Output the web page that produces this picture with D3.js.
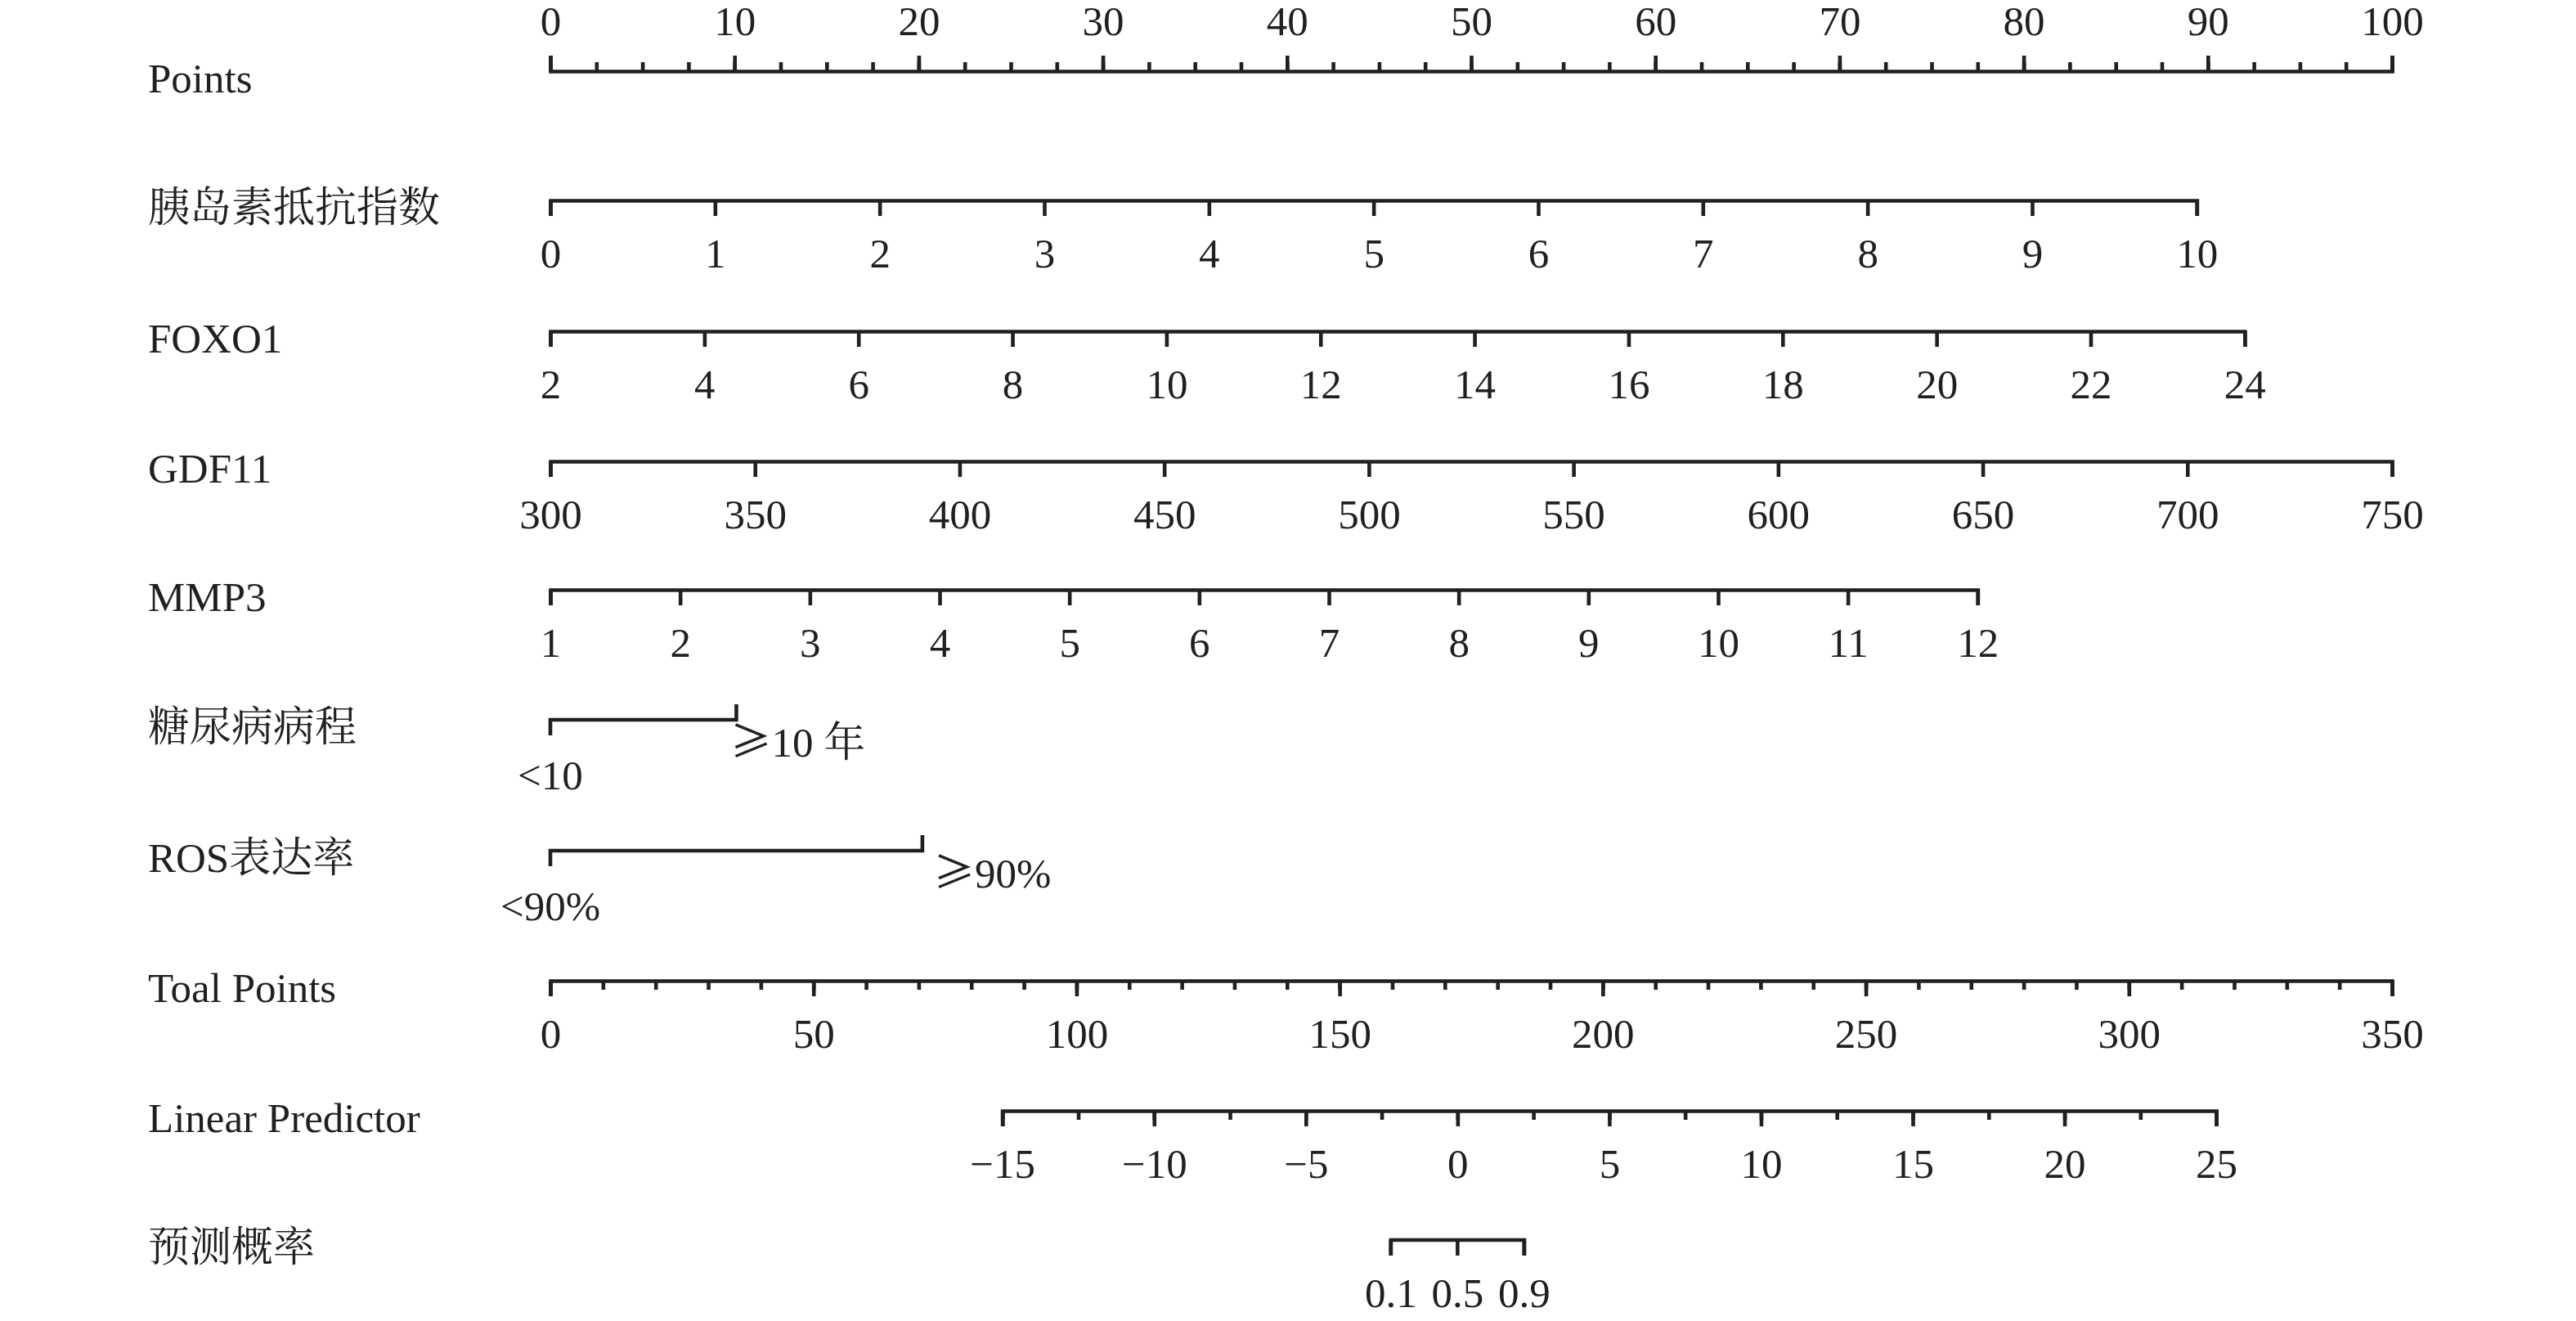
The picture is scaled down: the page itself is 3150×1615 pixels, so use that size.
<!DOCTYPE html>
<html><head><meta charset="utf-8">
<script src="https://cdn.jsdelivr.net/npm/d3@7"></script>
<style>
html,body{margin:0;padding:0;background:#fff;}
svg{display:block;}
</style></head>
<body>
<svg id="chart" width="3150" height="1615"></svg>
<script>
// ---------------- data ----------------
const rowLabels = ["Points","胰岛素抵抗指数","FOXO1","GDF11","MMP3","糖尿病病程","ROS表达率","Toal Points","Linear Predictor","预测概率"];

const pointsDomain = [0, 100];
const pointsTicks = [0,10,20,30,40,50,60,70,80,90,100];
const pointsMinor = [0,2.5,5,7.5,10,12.5,15,17.5,20,22.5,25,27.5,30,32.5,35,37.5,40,42.5,45,47.5,50,52.5,55,57.5,60,62.5,65,67.5,70,72.5,75,77.5,80,82.5,85,87.5,90,92.5,95,97.5,100];

const insulinRange = [0, 10];
const insulinPoints = [0, 89.4];
const insulinTicks = [0,1,2,3,4,5,6,7,8,9,10];

const foxo1Range = [2, 24];
const foxo1Points = [0, 92.0];
const foxo1Ticks = [2,4,6,8,10,12,14,16,18,20,22,24];

const gdf11Range = [300, 750];
const gdf11Points = [0, 100];
const gdf11Ticks = [300,350,400,450,500,550,600,650,700,750];

const mmp3Range = [1, 12];
const mmp3Points = [0, 77.5];
const mmp3Ticks = [1,2,3,4,5,6,7,8,9,10,11,12];

const durationLevels = ["<10", "≥10 年"];
const durationPoints = [0, 10.1];

const rosLevels = ["<90%", "≥90%"];
const rosPoints = [0, 20.2];

const totalDomain = [0, 350];
const totalTicks = [0,50,100,150,200,250,300,350];
const totalMinor = [0,10,20,30,40,50,60,70,80,90,100,110,120,130,140,150,160,170,180,190,200,210,220,230,240,250,260,270,280,290,300,310,320,330,340,350];

const lpDomain = [-15, 25];
const lpTotalPoints = [85.9, 316.6];
const lpTicks = [-15,-10,-5,0,5,10,15,20,25];
const lpMinor = [-15,-12.5,-10,-7.5,-5,-2.5,0,2.5,5,7.5,10,12.5,15,17.5,20,22.5,25];

const probTicks = [0.1, 0.5, 0.9];

// ---------------- layout ----------------
const INK = "#231f20";
const FONT = "'Liberation Serif','Times New Roman','Noto Serif CJK SC','Noto Sans CJK SC',serif";
const CJK = "'Noto Sans CJK SC','Noto Serif CJK SC',sans-serif";
const FS = 51;
const rowY = [87, 245, 405, 564, 721, 880, 1040, 1199, 1358, 1516];
const x0 = 673, x1 = 2925, labelX = 181;
const SW = 4.6, MAJOR = 19, MINOR = 11, LABOFF = 82;

const svg = d3.select("#chart");
svg.append("rect").attr("width",3150).attr("height",1615).attr("fill","#fff");

const pointsScale = d3.scaleLinear().domain(pointsDomain).range([x0, x1]);
const totalScale = d3.scaleLinear().domain(totalDomain).range([x0, x1]);
const lpScale = d3.scaleLinear().domain(lpDomain).range(lpTotalPoints.map(totalScale));

// row labels
svg.append("g").selectAll("text").data(rowLabels).join("text")
  .attr("x", labelX).attr("y", (d,i)=>rowY[i]+26)
  .attr("font-family", FONT).attr("font-size", FS).attr("fill", INK)
  .text(d=>d);

function styleAxis(g){
  g.attr("font-family", FONT).attr("font-size", FS).style("color", INK);
  g.selectAll("path,line").attr("stroke-width", SW).attr("stroke-linecap","butt").attr("stroke-linejoin","miter");
}

function numericAxis(y, scale, ticks, minor, top){
  const make = top ? d3.axisTop : d3.axisBottom;
  if (minor) {
    const gm = svg.append("g").attr("transform", `translate(0,${y})`)
      .call(make(scale).tickValues(minor).tickSize(MINOR).tickFormat(""));
    gm.select(".domain").remove();
    styleAxis(gm);
  }
  const g = svg.append("g").attr("transform", `translate(0,${y})`)
    .call(make(scale).tickValues(ticks).tickSizeInner(MAJOR).tickSizeOuter(MAJOR));
  styleAxis(g);
  g.selectAll(".tick text").attr("y", top ? -44 : LABOFF).attr("dy", null).attr("fill", INK);
  return g;
}

function varScale(range, pts){
  return d3.scaleLinear().domain(range).range(pts.map(pointsScale));
}

numericAxis(rowY[0], pointsScale, pointsTicks, pointsMinor, true);
numericAxis(rowY[1], varScale(insulinRange, insulinPoints), insulinTicks);
numericAxis(rowY[2], varScale(foxo1Range, foxo1Points), foxo1Ticks);
numericAxis(rowY[3], varScale(gdf11Range, gdf11Points), gdf11Ticks);
numericAxis(rowY[4], varScale(mmp3Range, mmp3Points), mmp3Ticks);

// label text where the "≥" sign is set in the CJK font (as in the reference)
function setLevelText(sel, s){
  if (s.startsWith("≥")) {
    sel.append("tspan").attr("font-family", CJK).text("≥");
    sel.append("tspan").text(s.slice(1));
  } else sel.text(s);
}

function catAxis(y, levels, pts, startOff){
  const xs = pts.map(pointsScale);
  svg.append("path")
    .attr("d", `M${xs[0]},${y+MAJOR} V${y} H${xs[1]} V${y-MAJOR}`)
    .attr("fill","none").attr("stroke", INK).attr("stroke-width", SW).attr("stroke-linejoin","miter");
  svg.append("text").attr("x", xs[0]).attr("y", y+85).attr("text-anchor","middle")
    .attr("font-family", FONT).attr("font-size", FS).attr("fill", INK).text(levels[0]);
  const t = svg.append("text").attr("x", xs[1]+startOff).attr("y", y+45).attr("text-anchor","start")
    .attr("font-family", FONT).attr("font-size", FS).attr("fill", INK);
  setLevelText(t, levels[1]);
}
catAxis(rowY[5], durationLevels, durationPoints, -8);
catAxis(rowY[6], rosLevels, rosPoints, 13);

numericAxis(rowY[7], totalScale, totalTicks, totalMinor);
numericAxis(rowY[8], lpScale, lpTicks, lpMinor);

// probability axis: each probability is placed at its logit on the linear predictor scale
const logit = p => Math.log(p/(1-p));
const pg = svg.append("g");
const py = rowY[9];
const pxs = probTicks.map(p => lpScale(logit(p)));
pg.append("path").attr("d", `M${pxs[0]},${py+MAJOR} V${py} H${pxs[pxs.length-1]} V${py+MAJOR}`)
  .attr("fill","none").attr("stroke", INK).attr("stroke-width", SW);
pg.selectAll("line").data(probTicks).join("line")
  .attr("x1", p=>lpScale(logit(p))).attr("x2", p=>lpScale(logit(p)))
  .attr("y1", py).attr("y2", py+MAJOR).attr("stroke", INK).attr("stroke-width", SW);
pg.selectAll("text").data(probTicks).join("text")
  .attr("x", p=>lpScale(logit(p))).attr("y", py+LABOFF).attr("text-anchor","middle")
  .attr("font-family", FONT).attr("font-size", FS).attr("fill", INK)
  .text(d=>d);
</script>
</body></html>
